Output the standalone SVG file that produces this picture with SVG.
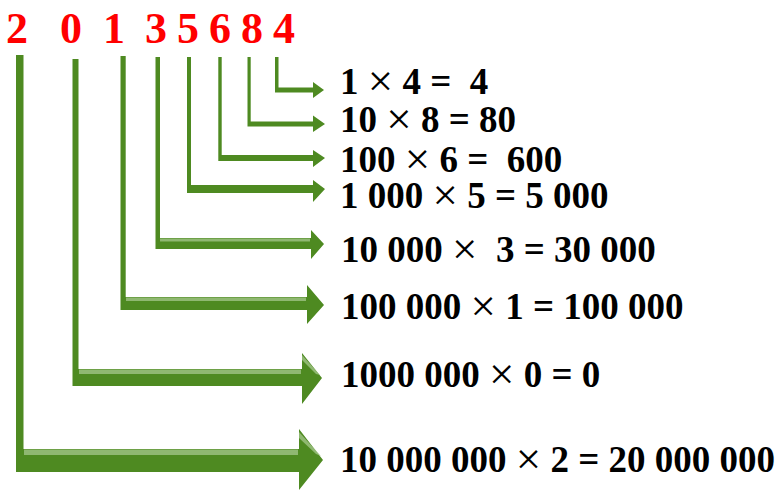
<svg xmlns="http://www.w3.org/2000/svg" width="782" height="491" viewBox="0 0 782 491">
<style>
.digit{font-family:"Liberation Serif","Times New Roman",serif;font-weight:bold;font-size:44px;fill:#FF0000;text-anchor:middle}
.eq{font-family:"Liberation Serif","Times New Roman",serif;font-weight:bold;font-size:37px;fill:#000000;white-space:pre}
.x{font-size:45px;font-weight:normal}
.arr{fill:#4E8A21}
.hl{fill:#A6C78C;opacity:0.75}
</style>
<rect width="782" height="491" fill="#FFFFFF"/>
<g id="digits">
<text class="digit" x="17" y="43">2</text>
<text class="digit" x="71" y="43">0</text>
<text class="digit" x="114" y="43">1</text>
<text class="digit" x="156" y="43">3</text>
<text class="digit" x="188" y="43">5</text>
<text class="digit" x="220" y="43">6</text>
<text class="digit" x="252" y="43">8</text>
<text class="digit" x="284" y="43">4</text>
</g>
<g id="connectors">
<polygon class="arr" points="275,57 278.5,57 278.5,87.5 313,87.5 313,82 324,90 313,98 313,92.5 275,92.5"/>
<polygon class="arr" points="247.5,57 250.7,57 250.7,121.5 313,121.5 313,115.5 325,124 313,132 313,126.5 247.5,126.5"/>
<polygon class="arr" points="218.3,57 221.7,57 221.7,155 313,155 313,150 325,158 313,167 313,161 218.3,161"/>
<polygon class="arr" points="187,57 191,57 191,185 313,185 313,180 325,189 313,202 313,193 187,193"/>
<polygon class="arr" points="155.5,57 160,57 160,238 311,238 311,230 324,244 311,259 311,249 155.5,249"/>
<polygon class="arr" points="120.5,56 125.7,56 125.7,297 307,297 307,285 324,305 307,324 307,310 120.5,310"/>
<polygon class="arr" points="72.5,59 78.5,59 78.5,369 302,369 302,353 322,378 302,404 302,386 72.5,386"/>
<polygon class="arr" points="16,55 23.5,55 23.5,449 299,449 299,429 323,460 299,490 299,472 16,472"/>
<rect class="hl" x="160" y="238.5" width="150" height="3"/>
<rect class="hl" x="126" y="297.5" width="180" height="3.5"/>
<rect class="hl" x="79" y="369.5" width="222" height="4.5"/>
<rect class="hl" x="24" y="449.5" width="274" height="5.5"/>
<polygon class="hl" points="302,355 302,360 316,374 320,375"/>
<polygon class="hl" points="299,432 299,438 316,454 321,456"/>
</g>
<g id="eq1"><text class="eq" x="340" y="94">1 <tspan class="x" dy="2">×</tspan><tspan dy="-2"> 4 =  4</tspan></text></g>
<g id="eq2"><text class="eq" x="340" y="132">10 <tspan class="x" dy="2">×</tspan><tspan dy="-2"> 8 = 80</tspan></text></g>
<g id="eq3"><text class="eq" x="340" y="172">100 <tspan class="x" dy="2">×</tspan><tspan dy="-2"> 6 =  600</tspan></text></g>
<g id="eq4"><text class="eq" x="340" y="208">1 000 <tspan class="x" dy="2">×</tspan><tspan dy="-2"> 5 = 5 000</tspan></text></g>
<g id="eq5"><text class="eq" x="341" y="262">10 000 <tspan class="x" dy="2">×</tspan><tspan dy="-2">  3 = 30 000</tspan></text></g>
<g id="eq6"><text class="eq" x="341" y="319">100 000 <tspan class="x" dy="2">×</tspan><tspan dy="-2"> 1 = 100 000</tspan></text></g>
<g id="eq7"><text class="eq" x="341" y="387">1000 000 <tspan class="x" dy="2">×</tspan><tspan dy="-2"> 0 = 0</tspan></text></g>
<g id="eq8"><text class="eq" x="340" y="472">10 000 000 <tspan class="x" dy="2">×</tspan><tspan dy="-2"> 2 = 20 000 000</tspan></text></g>
</svg>
